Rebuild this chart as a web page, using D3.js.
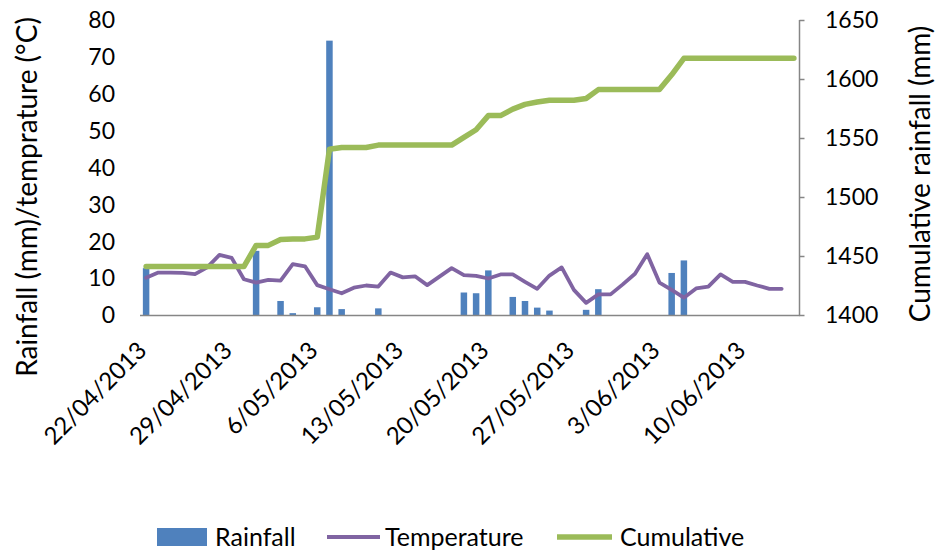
<!DOCTYPE html>
<html>
<head>
<meta charset="utf-8">
<script src="https://cdn.jsdelivr.net/npm/d3@7"></script>
<style>
  body { margin: 0; background: #fff; }
  text { font-family: Lato, "Noto Sans", sans-serif; fill: #000; }
</style>
</head>
<body>
<svg id="chart" width="939" height="552"></svg>
<script>
// Daily observations from 22/04/2013
const startDate = "2013-04-22";

// Daily rainfall (mm), one value per day
const rainfall = [
  12.7, 0, 0, 0, 0, 0, 0, 0, 0, 17.4,
  0, 3.8, 0.5, 0, 2.1, 74.4, 1.6, 0, 0, 1.8,
  0, 0, 0, 0, 0, 0, 6.1, 5.9, 12.1, 0,
  4.9, 3.8, 2.0, 1.2, 0, 0, 1.4, 7.0, 0, 0,
  0, 0, 0, 11.4, 14.8, 0, 0, 0, 0, 0,
  0, 0, 0, 0
];

// Daily mean temperature (°C)
const temperature = [
  10.1, 11.5, 11.5, 11.4, 11.1, 12.9, 16.3, 15.5, 9.7, 8.8,
  9.5, 9.3, 13.8, 13.2, 8.1, 7.0, 5.9, 7.4, 8.0, 7.7,
  11.5, 10.2, 10.5, 8.1, 10.4, 12.7, 10.8, 10.6, 9.9, 11.0,
  11.0, 9.0, 7.1, 10.7, 12.9, 6.8, 3.3, 5.6, 5.6, 8.3,
  11.2, 16.5, 8.8, 6.8, 4.7, 7.2, 7.7, 11.0, 9.0, 9.0,
  8.0, 7.1, 7.1
];

// Cumulative rainfall (mm)
const cumulative = [
  1441, 1441, 1441, 1441, 1441, 1441, 1441, 1441, 1441, 1459,
  1459, 1464, 1464.5, 1464.5, 1466, 1540.5, 1542, 1542, 1542, 1544,
  1544, 1544, 1544, 1544, 1544, 1544, 1550.5, 1557, 1569, 1569,
  1574.5, 1578.5, 1580.5, 1582, 1582, 1582, 1583.5, 1591, 1591, 1591,
  1591, 1591, 1591, 1603.5, 1617.5, 1617.5, 1617.5, 1617.5, 1617.5, 1617.5,
  1617.5, 1617.5, 1617.5, 1617.5
];

const tickLabels = ["22/04/2013", "29/04/2013", "6/05/2013", "13/05/2013",
                    "20/05/2013", "27/05/2013", "3/06/2013", "10/06/2013"];
const leftTicks = [0, 10, 20, 30, 40, 50, 60, 70, 80];
const rightTicks = [1400, 1450, 1500, 1550, 1600, 1650];
const seriesNames = ["Rainfall", "Temperature", "Cumulative"];
const colors = { rain: "#4F81BD", temp: "#8064A2", cum: "#9BBB59", axis: "#868686" };

const svg = d3.select("#chart");
const plot = { left: 140, right: 800, top: 20, bottom: 315 };

const start = new Date(startDate + "T00:00:00Z");
const dates = d3.range(cumulative.length).map(i => d3.utcDay.offset(start, i));

const x = d3.scaleUtc()
  .domain([d3.utcHour.offset(start, -12), d3.utcHour.offset(dates[dates.length - 1], 12)])
  .range([plot.left, plot.right]);
const yL = d3.scaleLinear().domain([0, 80]).range([plot.bottom, plot.top]);
const yR = d3.scaleLinear().domain([1400, 1650]).range([plot.bottom, plot.top]);

const tickFont = 23;
const dateFont = 24;
const legendFont = 25;
const titleFont = 28;

// Rainfall bars
const barW = 6.5;
svg.append("g").selectAll("rect")
  .data(rainfall.map((v, i) => ({ d: dates[i], v })))
  .join("rect")
  .attr("x", p => x(p.d) - barW / 2)
  .attr("y", p => yL(p.v))
  .attr("width", barW)
  .attr("height", p => yL(0) - yL(p.v))
  .attr("fill", colors.rain);

// Bottom axis line
svg.append("line")
  .attr("x1", plot.left).attr("x2", plot.right)
  .attr("y1", plot.bottom + 0.5).attr("y2", plot.bottom + 0.5)
  .attr("stroke", colors.axis).attr("stroke-width", 1.5);

// Right axis with outward ticks
const rightAxis = d3.axisRight(yR).tickValues(rightTicks).tickSize(5).tickFormat("");
const rAx = svg.append("g").attr("transform", `translate(${plot.right - 0.5},0)`).call(rightAxis);
rAx.selectAll("path, line").attr("stroke", colors.axis).attr("stroke-width", 1.5);
rAx.select(".domain").attr("d", `M0,${plot.top}V${plot.bottom + 1}`);

// Temperature line
svg.append("path")
  .datum(temperature.map((v, i) => ({ d: dates[i], v })))
  .attr("fill", "none")
  .attr("stroke", colors.temp)
  .attr("stroke-width", 3.8)
  .attr("stroke-linejoin", "round")
  .attr("stroke-linecap", "round")
  .attr("d", d3.line().x(p => x(p.d)).y(p => yL(p.v)));

// Cumulative line
svg.append("path")
  .datum(cumulative.map((v, i) => ({ d: dates[i], v })))
  .attr("fill", "none")
  .attr("stroke", colors.cum)
  .attr("stroke-width", 5.5)
  .attr("stroke-linejoin", "round")
  .attr("stroke-linecap", "round")
  .attr("d", d3.line().x(p => x(p.d)).y(p => yR(p.v)));

// Left tick labels
svg.append("g").selectAll("text")
  .data(leftTicks).join("text")
  .attr("x", 115).attr("y", d => yL(d)).attr("dy", "0.36em")
  .attr("text-anchor", "end").attr("font-size", tickFont)
  .text(d => d);

// Right tick labels
svg.append("g").selectAll("text")
  .data(rightTicks).join("text")
  .attr("x", 825).attr("y", d => yR(d)).attr("dy", "0.36em")
  .attr("text-anchor", "start").attr("font-size", tickFont)
  .text(d => d);

// Date labels, rotated
svg.append("g").selectAll("text")
  .data(tickLabels).join("text")
  .attr("transform", (t, i) => `translate(${x(d3.utcDay.offset(start, 7 * i)) + 2},352) rotate(-45)`)
  .attr("text-anchor", "end").attr("font-size", dateFont)
  .text(t => t);

// Axis titles
svg.append("text")
  .attr("transform", "translate(37,197) rotate(-90)")
  .attr("text-anchor", "middle").attr("font-size", titleFont)
  .text("Rainfall (mm)/temprature (°C)");
svg.append("text")
  .attr("transform", "translate(930,174) rotate(-90)")
  .attr("text-anchor", "middle").attr("font-size", titleFont)
  .text("Cumulative rainfall (mm)");

// Legend
const lg = svg.append("g");
const legendY = 537;
lg.append("rect").attr("x", 157).attr("y", legendY - 9).attr("width", 50).attr("height", 18).attr("fill", colors.rain);
lg.append("text").attr("x", 215).attr("y", legendY).attr("dy", "0.36em").attr("font-size", legendFont).text(seriesNames[0]);
lg.append("line").attr("x1", 327).attr("x2", 380).attr("y1", legendY).attr("y2", legendY)
  .attr("stroke", colors.temp).attr("stroke-width", 3.8);
lg.append("text").attr("x", 385).attr("y", legendY).attr("dy", "0.36em").attr("font-size", legendFont).text(seriesNames[1]);
lg.append("line").attr("x1", 557).attr("x2", 612).attr("y1", legendY).attr("y2", legendY)
  .attr("stroke", colors.cum).attr("stroke-width", 5.5);
lg.append("text").attr("x", 620).attr("y", legendY).attr("dy", "0.36em").attr("font-size", legendFont).text(seriesNames[2]);
</script>
</body>
</html>
